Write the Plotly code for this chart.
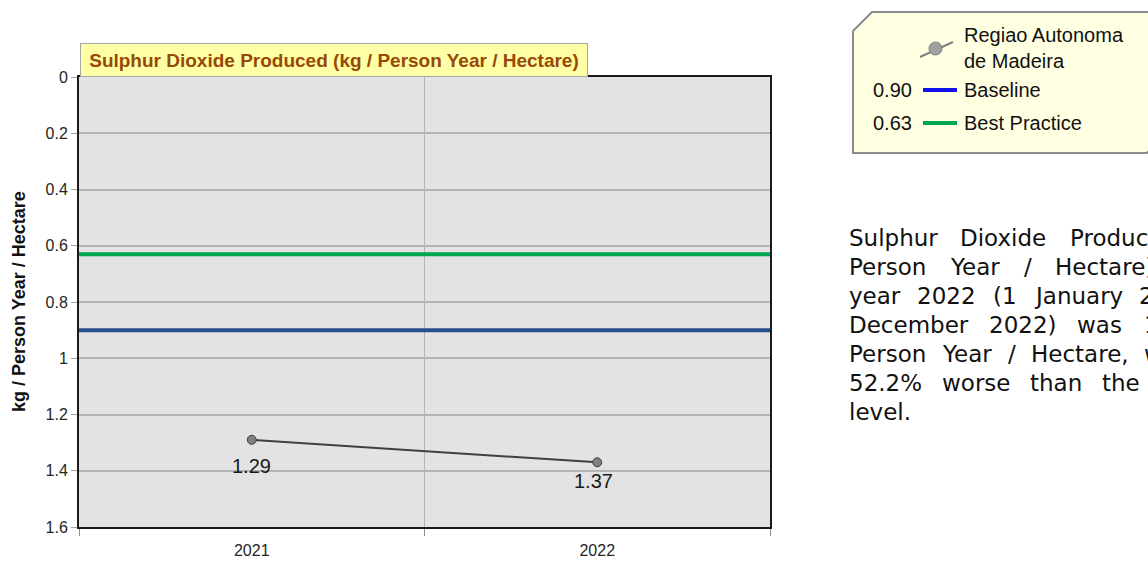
import plotly.graph_objects as go

# ---------------- data ----------------
years = ["2021", "2022"]
values = [1.29, 1.37]
baseline = 0.90
best_practice = 0.63
series_name = "Regiao Autonoma<br>de Madeira"
chart_title = "Sulphur Dioxide Produced (kg / Person Year / Hectare)"
y_title = "kg / Person Year / Hectare"
y_ticks = [0, 0.2, 0.4, 0.6, 0.8, 1, 1.2, 1.4, 1.6]

# label offsets (style, pixels)
label_dx = [0, -4]
label_dy = [-26, -19]

pct_worse = (values[-1] - baseline) / baseline * 100
para_lines = [
    [("Sulphur", 847), ("Dioxide", 958), ("Produced", 1068)],
    [("Person", 847), ("Year", 948), ("/", 1022), ("Hectare)", 1053)],
    [("year", 847), ("2022", 915), ("(1", 991), ("January", 1032), ("2022", 1137)],
    [("December", 847), ("2022)", 987), ("was", 1075), (f"{values[-1]:.2f}", 1142)],
    [("Person", 847), ("Year", 940), ("/", 1006), ("Hectare,", 1029), ("which", 1142)],
    [(f"{pct_worse:.1f}%", 847), ("worse", 940), ("than", 1028), ("the", 1100)],
    [("level.", 847)],
]

W, H = 1148, 561
L, R, T, B = 79, 770, 77, 527


def px(x):
    return x / W


def py(y):
    return 1 - y / H


fig = go.Figure()

fig.add_trace(go.Scatter(
    x=years, y=values, mode="lines+markers",
    line=dict(color="#404040", width=2),
    marker=dict(size=9, color="#808080", line=dict(color="#404040", width=1)),
    showlegend=False, cliponaxis=False, hoverinfo="skip",
))

shapes = []
shapes.append(dict(type="line", xref="x domain", yref="y", x0=0, x1=1, y0=best_practice, y1=best_practice,
                   line=dict(color="#00A550", width=4), layer="above"))
shapes.append(dict(type="line", xref="x domain", yref="y", x0=0, x1=1, y0=baseline, y1=baseline,
                   line=dict(color="#264F8C", width=4), layer="above"))

# legend box with clipped corners
lx0, ly0, lx1, ly1, c = 853, 12, 1166, 153, 19
path = (f"M {px(lx0)},{py(ly0 + c)} L {px(lx0 + c)},{py(ly0)} L {px(lx1)},{py(ly0)} "
        f"L {px(lx1)},{py(ly1 - c)} L {px(lx1 - c)},{py(ly1)} L {px(lx0)},{py(ly1)} Z")
shapes.append(dict(type="path", xref="paper", yref="paper", path=path,
                   fillcolor="#FFFFE1", line=dict(color="#8C8C8C", width=2)))
shapes.append(dict(type="line", xref="paper", yref="paper", x0=px(920), y0=py(57), x1=px(953), y1=py(42),
                   line=dict(color="#808080", width=2)))
shapes.append(dict(type="circle", xref="paper", yref="paper", x0=px(929), y0=py(42), x1=px(942), y1=py(55),
                   fillcolor="#A0A0A0", line=dict(color="#808080", width=1)))
shapes.append(dict(type="line", xref="paper", yref="paper", x0=px(923), y0=py(90), x1=px(957), y1=py(90),
                   line=dict(color="#1010F0", width=4)))
shapes.append(dict(type="line", xref="paper", yref="paper", x0=px(923), y0=py(123), x1=px(957), y1=py(123),
                   line=dict(color="#00A550", width=4)))

ann = []
# data labels (x as category index)
for i, v in enumerate(values):
    ann.append(dict(xref="x", yref="y", x=i, y=v, text=f"{v:.2f}", showarrow=False,
                    xanchor="center", yanchor="middle", xshift=label_dx[i], yshift=label_dy[i],
                    font=dict(family="Liberation Sans, Arial, sans-serif", size=20, color="#1a1a1a")))

leg_font = dict(family="Liberation Sans, Arial, sans-serif", size=20, color="#111111")
ann.append(dict(xref="paper", yref="paper", x=px(962), y=py(48), xanchor="left", yanchor="middle",
                text=series_name, showarrow=False, font=leg_font, align="left"))
ann.append(dict(xref="paper", yref="paper", x=px(962), y=py(90), xanchor="left", yanchor="middle",
                text="Baseline", showarrow=False, font=leg_font))
ann.append(dict(xref="paper", yref="paper", x=px(962), y=py(123), xanchor="left", yanchor="middle",
                text="Best Practice", showarrow=False, font=leg_font))
ann.append(dict(xref="paper", yref="paper", x=px(914), y=py(90), xanchor="right", yanchor="middle",
                text=f"{baseline:.2f}", showarrow=False, font=leg_font))
ann.append(dict(xref="paper", yref="paper", x=px(914), y=py(123), xanchor="right", yanchor="middle",
                text=f"{best_practice:.2f}", showarrow=False, font=leg_font))

# chart title box
ann.append(dict(xref="paper", yref="paper", x=px(80), y=py(77), xanchor="left", yanchor="bottom",
                text=f"<b>{chart_title}</b>", showarrow=False, width=506, height=32, align="center",
                bgcolor="#FFFFA6", bordercolor="#A6A6A6", borderwidth=1, borderpad=0,
                font=dict(family="Liberation Sans, Arial, sans-serif", size=19, color="#984807")))

# y-axis title
ann.append(dict(xref="paper", yref="paper", x=px(19), y=py((T + B) / 2), xanchor="center", yanchor="middle",
                text=f"<b>{y_title}</b>", showarrow=False, textangle=-90,
                font=dict(family="Liberation Sans, Arial, sans-serif", size=18, color="#111")))

# paragraph
para_font = dict(family="DejaVu Sans, Verdana, sans-serif", size=23, color="#111111")
y0 = 238
for i, line in enumerate(para_lines):
    for word, x in line:
        ann.append(dict(xref="paper", yref="paper", x=px(x), y=py(y0 + 29 * i), xanchor="left",
                        yanchor="middle", text=word, showarrow=False, font=para_font))

tick_font = dict(family="Liberation Sans, Arial, sans-serif", size=16, color="#262626")
fig.update_layout(
    width=W, height=H, margin=dict(l=0, r=0, t=0, b=0),
    paper_bgcolor="white", plot_bgcolor="#E3E3E3",
    shapes=shapes, annotations=ann, hovermode=False,
    xaxis=dict(domain=[px(L), px(R)], type="category", range=[-0.5, 1.5], tickson="boundaries",
               ticks="outside", ticklen=7, tickcolor="#909090", showgrid=True, gridcolor="#B4B4B4",
               gridwidth=1, showline=True, mirror=True, linecolor="#1a1a1a", linewidth=2,
               tickfont=tick_font, ticklabelstandoff=8, automargin=False),
    yaxis=dict(domain=[py(B), py(T)], range=[1.6, 0], tickvals=y_ticks, ticks="outside", ticklen=6,
               tickcolor="#A0A0A0", showgrid=True, gridcolor="#B4B4B4", gridwidth=2, zeroline=False,
               showline=True, mirror=True, linecolor="#1a1a1a", linewidth=2,
               tickfont=tick_font, automargin=False),
)

fig.write_html("out.html", config={"displayModeBar": False},
               post_script="document.body.style.margin='0';document.body.style.padding='0';")
